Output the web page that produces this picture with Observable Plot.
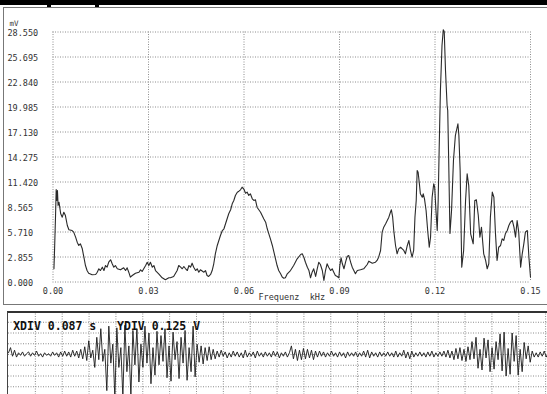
<!DOCTYPE html>
<html>
<head>
<meta charset="utf-8">
<script src="https://cdn.jsdelivr.net/npm/d3@7"></script>
<script src="https://cdn.jsdelivr.net/npm/@observablehq/plot@0.6"></script>
<style>
  html, body { margin: 0; padding: 0; background: #fff; }
  #page { position: relative; width: 547px; height: 394px; overflow: hidden; font-family: "DejaVu Sans Mono", monospace; }
  .abs { position: absolute; }
  svg text { white-space: pre; }
</style>
</head>
<body>
<div id="page">
  <div class="abs" style="left:0;top:0;width:547px;height:5px;background:#000"></div>
  <div class="abs" style="left:47px;top:0;width:4px;height:8px;background:#000"></div>
  <div class="abs" style="left:95px;top:0;width:4px;height:8px;background:#000"></div>
  <div class="abs" id="spec" style="left:0;top:0"></div>
  <div class="abs" style="left:3px;top:7px;width:560px;height:296px;border:1px solid #777;border-right:none"></div>
  <div class="abs" id="osc" style="left:0;top:311px"></div>
  <div class="abs" style="left:7px;top:311px;width:560px;height:100px;border-left:1.5px solid #444;border-top:2px solid #333"></div>
</div>
<script>
// Spectrum axis ticks
const freqTicks = [0, 0.03, 0.06, 0.09, 0.12, 0.15];             // kHz
const mVTicks = [0, 2.855, 5.71, 8.565, 11.42, 14.275, 17.13, 19.985, 22.84, 25.695, 28.55]; // mV

// Amplitude spectrum: frequency (kHz) and amplitude (mV)
const freqKHz = [
  0.0003,0.0005,0.0008,0.0010,0.0012,0.0014,0.0016,0.0019,0.0024,0.0029,
  0.0034,0.0039,0.0045,0.0050,0.0060,0.0065,0.0071,0.0076,0.0081,0.0086,
  0.0092,0.0097,0.0102,0.0107,0.0112,0.0123,0.0134,0.0139,0.0144,0.0149,
  0.0155,0.0160,0.0165,0.0170,0.0175,0.0181,0.0186,0.0191,0.0196,0.0202,
  0.0212,0.0222,0.0228,0.0233,0.0238,0.0243,0.0249,0.0259,0.0270,0.0275,
  0.0280,0.0285,0.0291,0.0296,0.0301,0.0306,0.0312,0.0317,0.0322,0.0332,
  0.0343,0.0353,0.0364,0.0369,0.0379,0.0390,0.0395,0.0401,0.0406,0.0411,
  0.0416,0.0422,0.0427,0.0432,0.0437,0.0442,0.0448,0.0453,0.0458,0.0463,
  0.0474,0.0479,0.0484,0.0489,0.0495,0.0500,0.0505,0.0510,0.0516,0.0521,
  0.0526,0.0532,0.0537,0.0542,0.0547,0.0552,0.0558,0.0563,0.0568,0.0573,
  0.0579,0.0584,0.0589,0.0594,0.0599,0.0605,0.0610,0.0615,0.0620,0.0626,
  0.0631,0.0636,0.0641,0.0652,0.0657,0.0662,0.0668,0.0673,0.0678,0.0683,
  0.0689,0.0694,0.0699,0.0704,0.0709,0.0715,0.0720,0.0725,0.0730,0.0736,
  0.0746,0.0756,0.0767,0.0778,0.0783,0.0788,0.0793,0.0799,0.0804,0.0809,
  0.0814,0.0819,0.0825,0.0830,0.0835,0.0840,0.0846,0.0851,0.0856,0.0861,
  0.0866,0.0872,0.0877,0.0882,0.0887,0.0893,0.0898,0.0901,0.0905,0.0909,
  0.0914,0.0919,0.0924,0.0929,0.0935,0.0940,0.0945,0.0950,0.0956,0.0966,
  0.0976,0.0987,0.0992,0.1003,0.1013,0.1018,0.1023,0.1029,0.1034,0.1039,
  0.1045,0.1050,0.1055,0.1060,0.1063,0.1067,0.1071,0.1076,0.1081,0.1086,
  0.1092,0.1097,0.1102,0.1107,0.1113,0.1118,0.1123,0.1128,0.1133,0.1137,
  0.1141,0.1144,0.1147,0.1151,0.1154,0.1160,0.1163,0.1167,0.1172,0.1177,
  0.1182,0.1186,0.1191,0.1196,0.1199,0.1203,0.1207,0.1210,0.1213,0.1217,
  0.1222,0.1226,0.1229,0.1233,0.1238,0.1240,0.1243,0.1247,0.1252,0.1258,
  0.1264,0.1272,0.1275,0.1279,0.1284,0.1290,0.1296,0.1301,0.1306,0.1312,
  0.1320,0.1325,0.1330,0.1336,0.1341,0.1346,0.1353,0.1359,0.1364,0.1369,
  0.1374,0.1380,0.1385,0.1390,0.1395,0.1400,0.1406,0.1411,0.1416,0.1421,
  0.1427,0.1432,0.1437,0.1443,0.1448,0.1453,0.1458,0.1463,0.1469,0.1474,
  0.1479,0.1484,0.1490,0.1495,0.1500
];
const amplitudeMV = [
  1.51,3.79,7.59,10.56,9.31,10.45,8.74,9.11,7.82,7.40,
  7.97,7.59,6.45,5.96,5.88,5.69,5.12,4.55,4.17,4.36,
  3.79,2.83,1.88,1.31,1.00,0.82,0.86,1.12,1.51,1.31,
  1.69,1.31,1.88,1.69,2.26,2.54,2.08,1.69,1.88,1.51,
  1.39,1.62,1.31,1.62,1.12,0.55,0.74,1.00,1.12,1.39,
  1.20,1.51,1.88,2.26,1.88,2.26,1.69,1.88,1.31,0.94,
  0.48,0.25,0.48,0.48,0.63,1.31,1.88,1.69,1.51,1.77,
  1.54,1.31,1.88,1.69,2.15,1.69,1.31,1.51,1.12,1.39,
  1.12,1.31,0.74,0.63,0.86,1.31,2.08,3.22,4.17,4.74,
  5.31,5.88,6.08,6.65,7.22,7.79,8.25,8.93,9.31,9.88,
  10.26,10.37,10.53,10.83,10.64,10.14,10.26,9.88,10.07,9.50,
  9.31,9.39,8.54,7.97,7.59,7.22,6.83,6.08,5.50,4.93,
  4.17,3.40,2.65,1.88,1.31,0.94,0.57,0.43,0.48,0.94,
  1.31,1.88,2.65,3.14,3.22,2.83,2.26,1.69,1.31,0.48,
  1.12,1.51,0.63,1.51,2.26,2.00,1.31,0.17,1.31,2.08,
  1.69,1.31,1.51,1.12,0.74,0.63,0.48,1.88,2.76,2.08,
  1.51,2.26,2.91,3.03,2.26,1.69,1.31,0.94,1.31,1.39,
  1.51,2.00,2.38,2.15,2.26,2.46,2.83,3.60,5.69,6.26,
  6.65,7.02,7.40,7.97,8.25,7.40,5.69,4.17,3.22,3.79,
  3.97,3.79,3.60,3.22,4.17,4.74,3.60,2.83,3.60,7.40,
  9.31,12.73,12.54,11.21,10.07,9.68,10.07,9.50,8.17,5.88,
  3.97,5.12,9.68,11.21,10.83,8.17,5.88,9.31,15.02,21.87,
  27.01,28.80,28.61,24.15,20.16,19.59,13.88,5.54,8.17,13.88,
  16.73,18.07,16.73,12.73,1.69,3.60,9.31,12.36,11.02,5.50,
  4.36,9.31,9.39,7.59,5.12,6.26,3.22,2.46,1.51,2.08,
  7.40,10.26,9.68,5.50,2.46,3.97,4.17,4.93,4.74,5.50,
  5.88,6.45,6.83,7.02,6.26,5.12,7.02,5.69,1.69,3.22,
  4.36,5.69,5.88,2.83,0.55
];

// Oscilloscope settings and trace
const XDIV = 0.087;        // s per division
const YDIV = 0.125;        // V per division
const screenDivs = 20.07;  // divisions visible across the screen
const sampleStep = 0.0065; // s between trace samples
const traceV = [
  0.02,0.08,-0.02,0.05,-0.03,0.02,-0.01,0.03,-0.02,0.01,
  0.03,-0.02,0.02,-0.01,0.04,-0.02,0.01,-0.03,0.02,-0.01,
  0.01,-0.02,0.03,-0.01,0.02,-0.03,0.03,-0.02,0.04,-0.02,
  0.03,-0.03,0.05,-0.02,0.04,-0.04,
  0.06,-0.05,0.09,-0.07,
  0.16,-0.04,0.05,-0.15,0.20,-0.06,
  0.30,-0.08,0.06,-0.42,0.33,-0.10,0.12,-0.50,0.31,-0.15,0.08,-0.50,0.34,-0.20,0.10,-0.48,0.28,-0.12,0.30,
  -0.32,0.12,-0.15,0.33,-0.10,0.25,-0.34,0.08,-0.24,0.27,-0.12,
  0.22,-0.08,0.30,-0.27,0.10,-0.31,0.26,-0.06,0.15,-0.28,0.20,-0.10,0.28,-0.30,0.08,-0.20,0.33,-0.26,
  0.12,-0.09,0.10,-0.11,0.08,-0.07,0.09,-0.06,0.06,-0.05,
  0.04,-0.03,0.05,-0.02,0.03,-0.04,0.02,-0.03,0.04,-0.02,
  0.03,-0.03,0.02,-0.04,0.05,-0.03,0.02,-0.02,0.03,-0.04,
  0.04,-0.02,0.02,-0.03,0.03,-0.02,0.02,-0.03,0.04,-0.02,
  0.03,-0.04,0.02,-0.02,0.03,-0.03,0.02,
  0.10,-0.05,0.06,-0.07,0.05,-0.06,0.07,-0.05,0.06,-0.04,0.05,-0.06,0.04,-0.03,0.04,
  -0.02,0.03,-0.03,0.02,-0.02,0.04,-0.02,0.02,-0.03,0.03,
  -0.02,0.02,-0.04,0.03,-0.02,0.02,-0.02,0.03,-0.03,0.02,
  -0.02,0.04,-0.03,0.05,-0.04,0.03,-0.02,0.02,-0.03,0.03,
  -0.02,0.02,-0.02,0.03,-0.02,0.02,-0.03,0.04,-0.03,0.02,
  -0.02,0.05,-0.04,0.03,-0.05,0.04,-0.03,0.02,-0.02,0.03,
  -0.02,0.02,-0.03,0.03,-0.02,0.04,-0.03,0.02,-0.02,0.03,
  -0.02,0.04,-0.03,0.05,-0.04,0.04,
  -0.06,0.07,-0.05,0.08,-0.07,0.06,-0.08,0.09,-0.06,
  0.15,-0.05,0.20,-0.16,0.06,-0.18,0.19,-0.04,0.17,-0.20,
  0.08,-0.17,0.15,-0.06,0.24,-0.19,0.26,-0.25,0.07,-0.23,
  0.25,-0.08,0.22,-0.24,0.06,-0.20,0.14,-0.05,0.10,-0.09,
  0.04,-0.03,0.02,-0.03,0.03,-0.02,0.04,-0.03,0.02
];

const spectrum = freqKHz.map((f, i) => ({f, v: amplitudeMV[i]}));
const trace = traceV.map((v, i) => ({t: i * sampleStep, v}));

const gridStyle = {stroke: "#8c8c8c", strokeWidth: 1, strokeDasharray: "1,1.5"};

const spec = Plot.plot({
  width: 547,
  height: 305,
  marginLeft: 52.5,
  marginRight: 17,
  marginTop: 31.5,
  marginBottom: 23.5,
  style: {background: "transparent", fontFamily: "'DejaVu Sans Mono', monospace", fontSize: "8.5px", color: "#333"},
  x: {domain: [0, 0.15], axis: null},
  y: {domain: [0, 28.55], axis: null},
  marks: [
    Plot.ruleX(freqTicks, gridStyle),
    Plot.ruleY(mVTicks, gridStyle),
    Plot.text(mVTicks, {y: d => d, frameAnchor: "left", textAnchor: "start", dx: -45.5, dy: 1, text: d => d.toFixed(3), fill: "#333"}),
    Plot.text(freqTicks, {x: d => d, frameAnchor: "bottom", lineAnchor: "top", dy: 6, text: d => d.toFixed(2), fill: "#333"}),
    Plot.text(["Frequenz  kHz"], {frameAnchor: "bottom", dy: 18, text: d => d, fill: "#333"}),
    Plot.text(["mV"], {frameAnchor: "top-left", textAnchor: "start", dx: -43.5, dy: -11, text: d => d, fontSize: 7.5, fill: "#333"}),
    Plot.line(spectrum, {x: "f", y: "v", stroke: "#2a2a2a", strokeWidth: 1.1})
  ]
});
document.getElementById("spec").append(spec);

const osc = Plot.plot({
  width: 547,
  height: 83,
  marginLeft: 8,
  marginRight: 0,
  marginTop: 0,
  marginBottom: 0,
  style: {background: "transparent", fontFamily: "'DejaVu Sans Mono', monospace", color: "#111"},
  x: {domain: [0, screenDivs * XDIV], axis: null},
  y: {domain: [-0.465, 4 * YDIV], axis: null},
  marks: [
    Plot.ruleX(d3.range(1, 21).map(k => k * XDIV), gridStyle),
    Plot.ruleY(d3.range(-3, 4).map(k => k * YDIV), gridStyle),
    Plot.line(trace, {x: "t", y: "v", stroke: "#1a1a1a", strokeWidth: 0.9, clip: true}),
    Plot.text([`XDIV ${XDIV.toFixed(3)} s   YDIV ${YDIV.toFixed(3)} V`], {
      frameAnchor: "top-left", textAnchor: "start", dx: 4.7, dy: 10,
      text: d => d, fontSize: 11.5, fontWeight: "bold", fill: "#111"
    })
  ]
});
document.getElementById("osc").append(osc);
</script>
</body>
</html>
